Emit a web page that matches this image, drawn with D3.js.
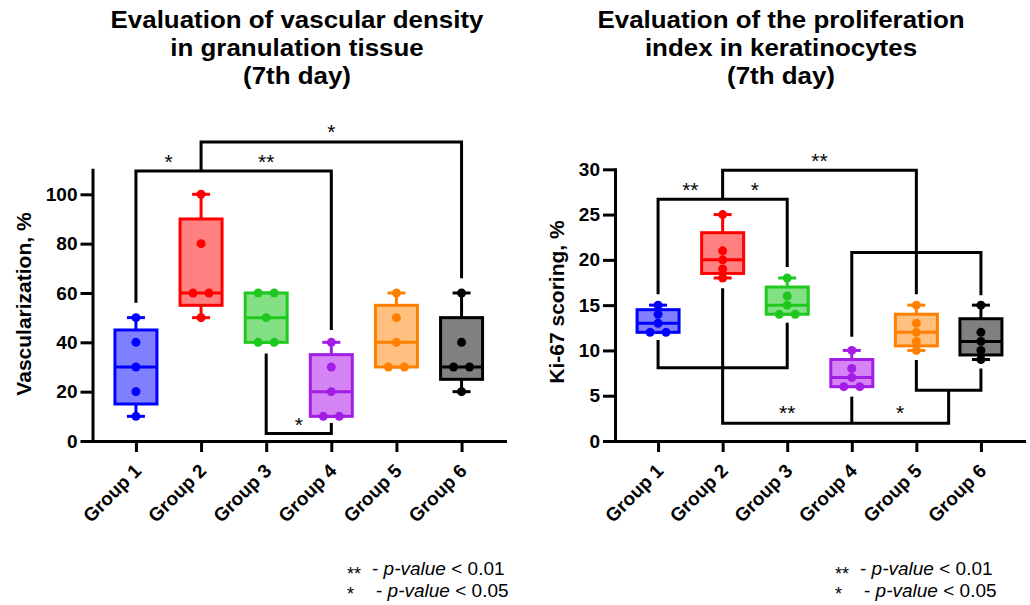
<!DOCTYPE html>
<html>
<head>
<meta charset="utf-8">
<title>Vascular density and Ki-67 box plots</title>
<style>
  body { margin: 0; background: #fff; }
  svg { display: block; background: #fff; }
  text { font-family: "Liberation Sans", Arial, sans-serif; fill: #000; }
  .axis path, .axis line { stroke: #000; stroke-width: 3px; }
  .axis path { stroke-linecap: square; }
  .axis text { font-size: 19px; font-weight: bold; }
  .title { font-size: 24px; font-weight: bold; }
  .ylabel { font-size: 21px; font-weight: bold; }
  .bracket { fill: none; stroke: #000; stroke-width: 3px; }
  .star { font-size: 21px; }
  .legend { font-size: 19px; }
  .legendStar { font-size: 18px; }
</style>
</head>
<body>
<svg width="1030" height="605"></svg>
<script src="https://d3js.org/d3.v7.min.js"></script>
<script>
  var groups = ['Group 1', 'Group 2', 'Group 3', 'Group 4', 'Group 5', 'Group 6'];
  var strokeColors = ['#0000ff', '#ff0000', '#1ec81e', '#a21ee6', '#ff8000', '#000000'];
  var fillColors = ['#8080ff', '#ff8080', '#84e084', '#d484f4', '#ffc080', '#808080'];

  // individual animal values
  var vascValues = [
    [10, 20, 30, 40, 50],
    [50, 60, 60, 80, 100],
    [40, 40, 50, 60, 60],
    [10, 10, 20, 30, 40],
    [30, 30, 40, 50, 60],
    [20, 30, 30, 40, 60]
  ];
  var kiValues = [
    [12, 12, 13, 14, 15],
    [18, 19, 20, 21, 25],
    [14, 14, 15, 16, 18],
    [6, 6, 7, 8, 10],
    [10, 11, 12, 13, 15],
    [9, 10, 11, 12, 15]
  ];

  var vascTicks = [0, 20, 40, 60, 80, 100];
  var kiTicks = [0, 5, 10, 15, 20, 25, 30];

  // significance brackets: [group index, value] corners
  var vascBrackets = [
    [[0, 56], [0, 109.4], [3, 109.4], [3, 45]],
    [[1, 109.4], [1, 121.2], [5, 121.2], [5, 66]],
    [[2, 35.5], [2, 3], [3, 3], [3, 7.3]]
  ];
  var vascStars = [[0.5, 115, '*'], [2, 115, '**'], [3, 127.3, '*'], [2.5, 8.4, '*']];

  var kiBrackets = [
    [[0, 16.2], [0, 26.7], [2, 26.7], [2, 19.2]],
    [[1, 26.7], [1, 29.9], [4, 29.9], [4, 16.2]],
    [[3, 11.5], [3, 20.8], [5, 20.8], [5, 16.1]],
    [[0, 11.15], [0, 8.1], [2, 8.1], [2, 13.07]],
    [[1, 16.86], [1, 1.95], [4.5, 1.95], [4.5, 5.6]],
    [[3, 4.9], [3, 1.95]],
    [[4, 8.94], [4, 5.6], [5, 5.6], [5, 8.0]]
  ];
  var kiStars = [[0.5, 28.3, '**'], [1.5, 28.3, '*'], [2.5, 31.5, '**'], [2, 3.6, '**'], [3.75, 3.6, '*']];

  var svg = d3.select('svg');

  // GraphPad style quartiles: position (n+1)p
  function quart(sorted, p) {
    var h = (sorted.length + 1) * p;
    var lo = Math.floor(h);
    if (lo < 1) return sorted[0];
    if (lo >= sorted.length) return sorted[sorted.length - 1];
    return sorted[lo - 1] + (h - lo) * (sorted[lo] - sorted[lo - 1]);
  }

  function drawPanel(opts) {
    var x = d3.scalePoint().domain(groups).range([opts.left, opts.right]).padding(0.667);
    var y = d3.scaleLinear().domain([0, opts.yMax]).range([441, opts.yTop]);
    var step = x.step();
    var gx = function(i) { return x(groups[0]) + i * step; };

    var boxHalf = 21, capHalf = 9;

    var boxes = svg.append('g').selectAll('g')
      .data(opts.values)
      .join('g');

    boxes.each(function(vals, i) {
      var g = d3.select(this);
      var s = vals.slice().sort(d3.ascending);
      var cx = x(groups[i]);
      var q1 = quart(s, 0.25), q2 = quart(s, 0.5), q3 = quart(s, 0.75);
      var col = strokeColors[i];

      g.append('line')
        .attr('x1', cx).attr('x2', cx)
        .attr('y1', y(s[0])).attr('y2', y(s[s.length - 1]))
        .attr('stroke', col).attr('stroke-width', 3);
      [s[0], s[s.length - 1]].forEach(function(v) {
        g.append('line')
          .attr('x1', cx - capHalf).attr('x2', cx + capHalf)
          .attr('y1', y(v)).attr('y2', y(v))
          .attr('stroke', col).attr('stroke-width', 3);
      });
      g.append('rect')
        .attr('x', cx - boxHalf).attr('width', boxHalf * 2)
        .attr('y', y(q3)).attr('height', y(q1) - y(q3))
        .attr('fill', fillColors[i])
        .attr('stroke', col).attr('stroke-width', 3);
      g.append('line')
        .attr('x1', cx - boxHalf).attr('x2', cx + boxHalf)
        .attr('y1', y(q2)).attr('y2', y(q2))
        .attr('stroke', col).attr('stroke-width', 3);

      // dots, duplicates spread side by side
      var counts = d3.rollup(s, function(v) { return v.length; }, function(d) { return d; });
      var seen = new Map();
      s.forEach(function(v) {
        var n = counts.get(v);
        var k = seen.get(v) || 0;
        seen.set(v, k + 1);
        var off = n > 1 ? (k - (n - 1) / 2) * 16 : 0;
        g.append('circle')
          .attr('cx', cx + off).attr('cy', y(v))
          .attr('r', 4.5)
          .attr('fill', col);
      });
    });

    // axes
    svg.append('g')
      .attr('class', 'axis')
      .attr('transform', 'translate(' + opts.left + ',0)')
      .call(d3.axisLeft(y).tickValues(opts.ticks).tickSize(12).tickPadding(3).tickSizeOuter(0));

    var xa = svg.append('g')
      .attr('class', 'axis')
      .attr('transform', 'translate(0,441)')
      .call(d3.axisBottom(x).tickSize(11).tickSizeOuter(0));
    xa.selectAll('text')
      .attr('x', 0).attr('y', 0).attr('dy', 0)
      .attr('text-anchor', 'end')
      .attr('transform', 'translate(6,31) rotate(-45)');

    // brackets
    var line = d3.line()
      .x(function(d) { return gx(d[0]); })
      .y(function(d) { return y(d[1]); });
    svg.append('g').selectAll('path')
      .data(opts.brackets)
      .join('path')
        .attr('class', 'bracket')
        .attr('d', line);

    svg.append('g').selectAll('text')
      .data(opts.stars)
      .join('text')
        .attr('class', 'star')
        .attr('x', function(d) { return gx(d[0]); })
        .attr('y', function(d) { return y(d[1]); })
        .attr('dy', '0.57em')
        .attr('text-anchor', 'middle')
        .text(function(d) { return d[2]; });

    // y label
    svg.append('text')
      .attr('class', 'ylabel')
      .attr('transform', 'translate(' + opts.labelX + ',' + opts.labelY + ') rotate(-90)')
      .attr('text-anchor', 'middle')
      .text(opts.yLabel);

    // title, a little wider than the plain font
    var t = svg.append('text')
      .attr('class', 'title')
      .attr('text-anchor', 'middle')
      .attr('transform', 'translate(' + opts.titleX + ',0) scale(1.08,1)');
    opts.title.forEach(function(s, i) {
      t.append('tspan')
        .attr('x', 0)
        .attr('y', 28 + i * 28)
        .text(s);
    });

    // legend
    var lg = svg.append('g').attr('transform', 'translate(' + opts.legendX + ',0)');
    [['**', '0.01', 575, 25, 5], ['*', '0.05', 597, 29, 3]].forEach(function(r) {
      lg.append('text')
        .attr('class', 'legendStar')
        .attr('x', 0).attr('y', r[2] + r[4])
        .text(r[0]);
      var tx = lg.append('text')
        .attr('class', 'legend')
        .attr('x', r[3]).attr('y', r[2]);
      tx.append('tspan').text('- ');
      tx.append('tspan').style('font-style', 'italic').text('p-value');
      tx.append('tspan').text(' < ' + r[1]);
    });
  }

  drawPanel({
    left: 92.5, right: 505, yMax: 110, yTop: 441 - 110 * 2.467,
    values: vascValues, ticks: vascTicks,
    brackets: vascBrackets, stars: vascStars,
    yLabel: 'Vascularization, %', labelX: 31, labelY: 304,
    title: ['Evaluation of vascular density', 'in granulation tissue', '(7th day)'], titleX: 297,
    legendX: 347
  });

  drawPanel({
    left: 615, right: 1024, yMax: 30, yTop: 169.3,
    values: kiValues, ticks: kiTicks,
    brackets: kiBrackets, stars: kiStars,
    yLabel: 'Ki-67 scoring, %', labelX: 564, labelY: 302,
    title: ['Evaluation of the proliferation', 'index in keratinocytes', '(7th day)'], titleX: 781,
    legendX: 835
  });
</script>
</body>
</html>
